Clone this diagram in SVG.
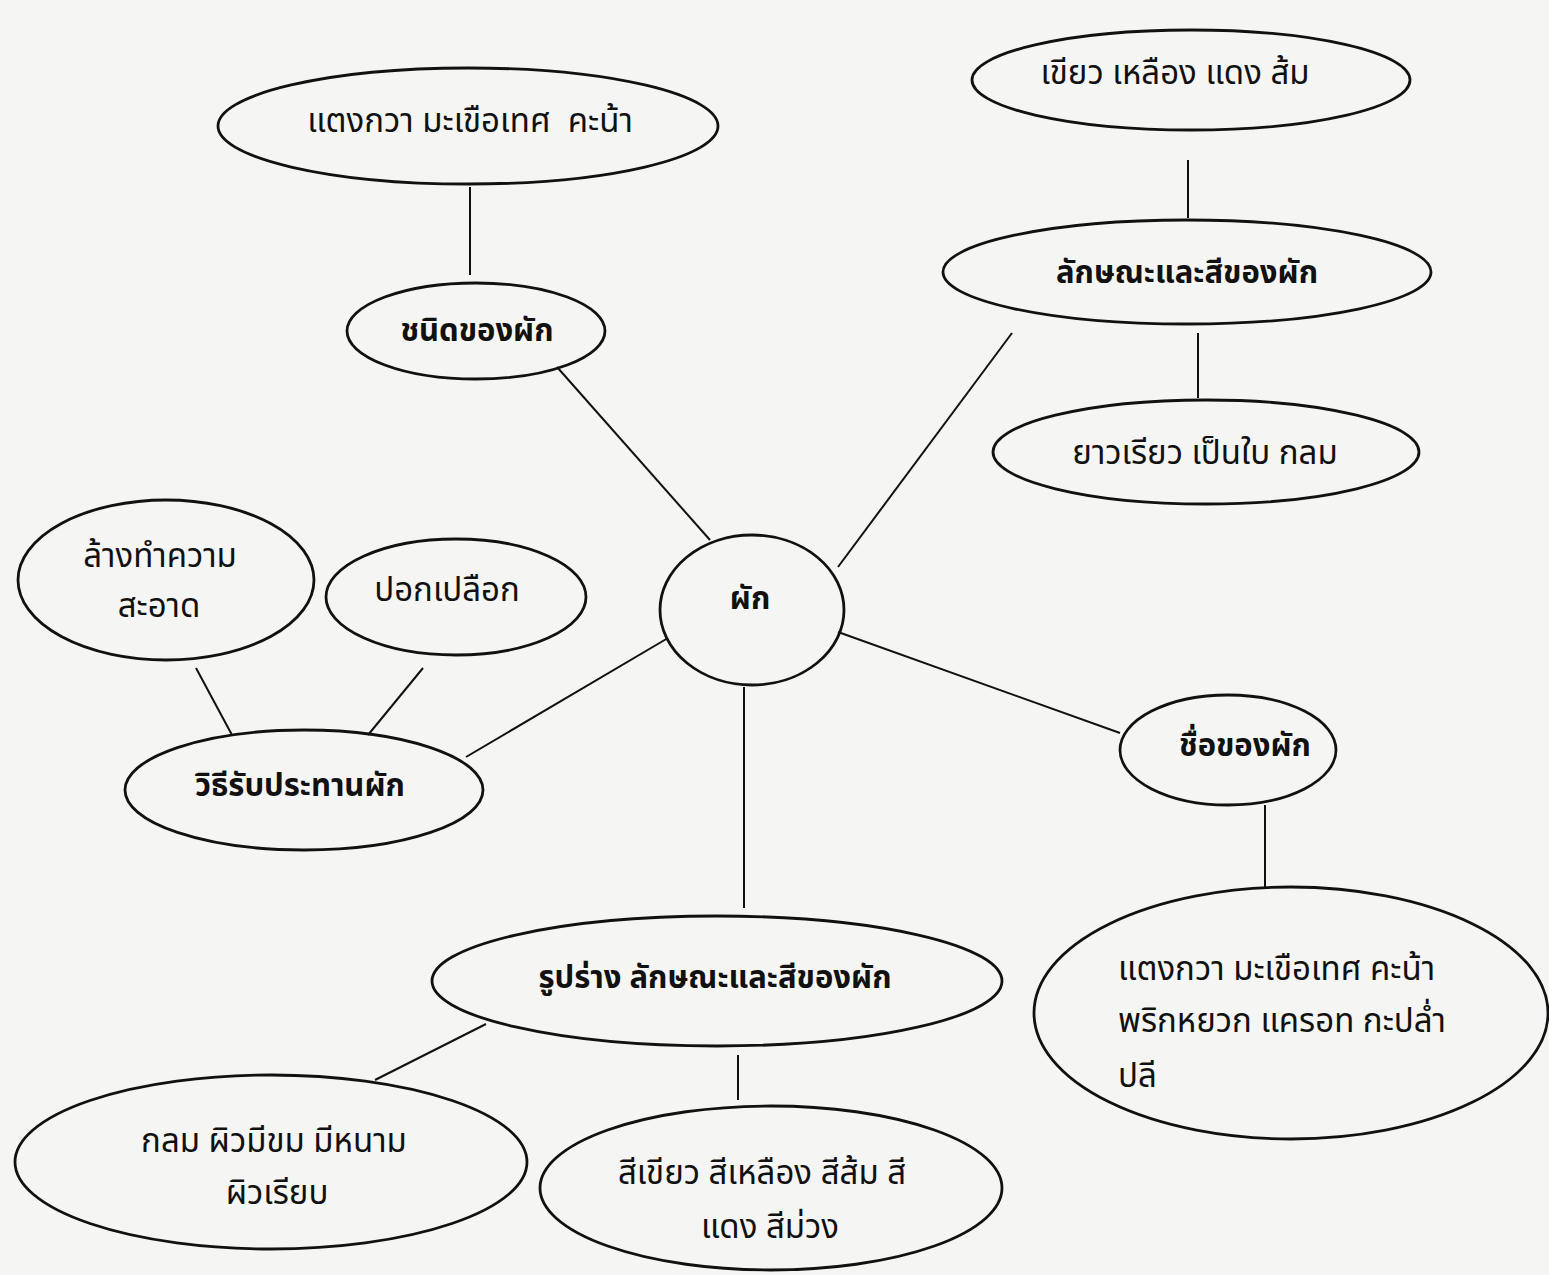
<svg xmlns="http://www.w3.org/2000/svg" width="1549" height="1275" viewBox="0 0 1549 1275">
<style>
.n{fill:none;stroke:#111;stroke-width:2.8}
.c line{stroke:#111;stroke-width:2}
text{font-family:"Noto Sans Thai","Loma","Garuda","Tlwg Typo","Noto Sans","DejaVu Sans",sans-serif;font-size:33px;fill:#111;text-anchor:middle}
.b{font-weight:bold;font-size:31px}
.l{text-anchor:start}
</style>
<rect width="1549" height="1275" fill="#f5f5f3"/>
<g class="c" id="connectors">
<line x1="470" y1="187" x2="470" y2="275"/>
<line x1="1188" y1="160" x2="1188" y2="218"/>
<line x1="1198" y1="333" x2="1198" y2="398"/>
<line x1="557" y1="367" x2="710" y2="540"/>
<line x1="1012" y1="333" x2="838" y2="567"/>
<line x1="838" y1="632" x2="1120" y2="733"/>
<line x1="1265" y1="805" x2="1265" y2="888"/>
<line x1="744" y1="687" x2="744" y2="908"/>
<line x1="486" y1="1024" x2="375" y2="1080"/>
<line x1="738" y1="1055" x2="738" y2="1100"/>
<line x1="196" y1="668" x2="232" y2="735"/>
<line x1="423" y1="668" x2="368" y2="735"/>
<line x1="668" y1="638" x2="466" y2="757"/>
</g>
<g id="n1"><ellipse class="n" cx="468" cy="126" rx="250" ry="58"/><text x="470" y="132">แตงกวา มะเขือเทศ&#160; คะน้า</text></g>
<g id="n2"><ellipse class="n" cx="476" cy="331" rx="129" ry="48"/><text class="b" x="477" y="341">ชนิดของผัก</text></g>
<g id="n3"><ellipse class="n" cx="1191" cy="80" rx="219" ry="50"/><text x="1175" y="84">เขียว เหลือง แดง ส้ม</text></g>
<g id="n4"><ellipse class="n" cx="1187" cy="272" rx="244" ry="52"/><text class="b" x="1187" y="283">ลักษณะและสีของผัก</text></g>
<g id="n5"><ellipse class="n" cx="1206" cy="452" rx="213" ry="52"/><text x="1205" y="464">ยาวเรียว เป็นใบ กลม</text></g>
<g id="n6"><ellipse class="n" cx="752" cy="610" rx="92" ry="75"/><text class="b" x="750" y="609">ผัก</text></g>
<g id="n7"><ellipse class="n" cx="166" cy="580" rx="148" ry="80"/><text x="160" y="567">ล้างทำความ</text><text x="159" y="617">สะอาด</text></g>
<g id="n8"><ellipse class="n" cx="456" cy="597" rx="130" ry="58"/><text x="447" y="601">ปอกเปลือก</text></g>
<g id="n9"><ellipse class="n" cx="304" cy="790" rx="179" ry="60"/><text class="b" x="300" y="796">วิธีรับประทานผัก</text></g>
<g id="n10"><ellipse class="n" cx="1228" cy="750" rx="108" ry="55"/><text class="b" x="1245" y="756">ชื่อของผัก</text></g>
<g id="n11"><ellipse class="n" cx="1291" cy="1013" rx="257" ry="126"/><text class="l" x="1118" y="980">แตงกวา มะเขือเทศ คะน้า</text><text class="l" x="1118" y="1032">พริกหยวก แครอท กะปล่ำ</text><text class="l" x="1118" y="1087">ปลี</text></g>
<g id="n12"><ellipse class="n" cx="717" cy="981" rx="285" ry="65"/><text class="b" x="715" y="988">รูปร่าง ลักษณะและสีของผัก</text></g>
<g id="n13"><ellipse class="n" cx="271" cy="1162" rx="256" ry="87"/><text x="274" y="1152">กลม ผิวมีขม มีหนาม</text><text x="277" y="1204">ผิวเรียบ</text></g>
<g id="n14"><ellipse class="n" cx="771" cy="1188" rx="231" ry="82"/><text x="762" y="1184">สีเขียว สีเหลือง สีส้ม สี</text><text x="770" y="1238">แดง สีม่วง</text></g>
</svg>
